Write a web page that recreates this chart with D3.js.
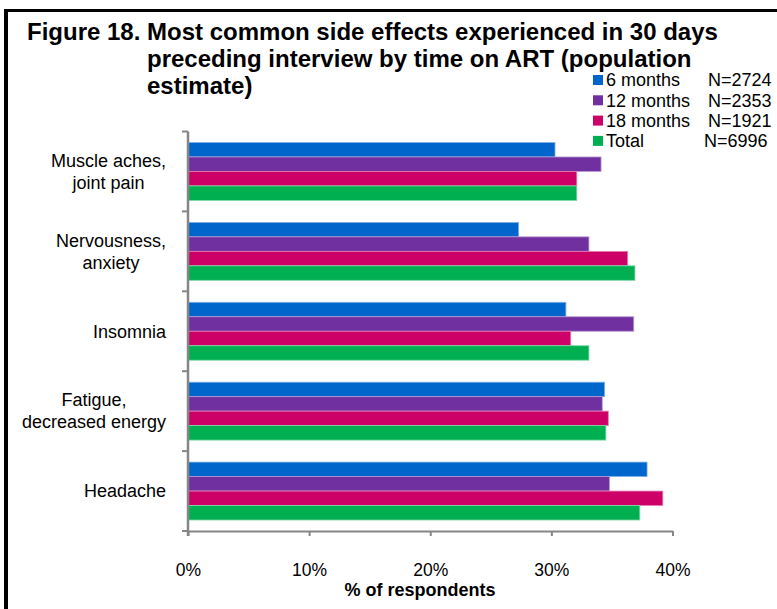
<!DOCTYPE html>
<html>
<head>
<meta charset="utf-8">
<script src="https://cdn.jsdelivr.net/npm/d3@7"></script>
<style>
  html, body { margin: 0; padding: 0; background: #fff; }
  svg { display: block; font-family: "Liberation Sans", Arial, sans-serif; }
</style>
</head>
<body>
<svg id="chart" width="777" height="609"></svg>
<script>
// Side effects reported in the 30 days before interview, by time on ART (% of respondents)
const categories = [
  ["Muscle aches,", "joint pain"],
  ["Nervousness,", "anxiety"],
  ["Insomnia"],
  ["Fatigue,", "decreased energy"],
  ["Headache"]
];
const seriesNames = ["6 months", "12 months", "18 months", "Total"];
const seriesN = ["N=2724", "N=2353", "N=1921", "N=6996"];
const seriesColors = ["#0066CC", "#7030A0", "#CC0066", "#00B050"];

// one array per series, in category order (top to bottom)
const months6  = [30.3, 27.3, 31.2, 34.4, 37.9];
const months12 = [34.1, 33.1, 36.8, 34.2, 34.8];
const months18 = [32.1, 36.3, 31.6, 34.7, 39.2];
const total    = [32.1, 36.9, 33.1, 34.5, 37.3];
const seriesValues = [months6, months12, months18, total];

const xTicks = [0, 10, 20, 30, 40];
const titleLines = [
  "Figure 18. Most common side effects experienced in 30 days",
  "preceding interview by time on ART (population",
  "estimate)"
];
const xAxisTitle = "% of respondents";

const svg = d3.select("#chart");
const axisGrey = "#868686";

// frame around the figure
svg.append("line").attr("x1", 6).attr("x2", 6).attr("y1", 9).attr("y2", 620)
  .attr("stroke", "#000").attr("stroke-width", 4);
svg.append("line").attr("x1", 4).attr("x2", 790).attr("y1", 10.5).attr("y2", 10.5)
  .attr("stroke", "#000").attr("stroke-width", 3);

// title
const title = svg.append("g").attr("font-weight", "bold").attr("font-size", 24).attr("fill", "#000");
title.append("text").attr("x", 27).attr("y", 39.5).text(titleLines[0]);
title.append("text").attr("x", 147).attr("y", 66.5).text(titleLines[1]);
title.append("text").attr("x", 147).attr("y", 93.5).text(titleLines[2]);

// scales
const plotLeft = 188, plotRight = 672.5, plotTop = 131.5, plotBottom = 531;
const x = d3.scaleLinear().domain([0, 40]).range([plotLeft, plotRight]);
const pad = 0.275;
const y = d3.scaleBand().domain(d3.range(categories.length))
  .range([plotTop, plotBottom]).paddingInner(pad).paddingOuter(pad / 2);
const ySeries = d3.scaleBand().domain(d3.range(seriesNames.length))
  .range([0, y.bandwidth()]).padding(0);

// bars
const groups = svg.append("g").selectAll("g")
  .data(categories.map((c, i) => i))
  .join("g")
  .attr("transform", i => `translate(0,${y(i)})`);

groups.selectAll("rect")
  .data(i => seriesValues.map((vals, s) => ({ s, v: vals[i] })))
  .join("rect")
  .attr("x", x(0))
  .attr("y", d => ySeries(d.s))
  .attr("width", d => x(d.v) - x(0))
  .attr("height", ySeries.bandwidth())
  .attr("fill", d => seriesColors[d.s])
  .attr("stroke", d => d3.interpolateRgb(seriesColors[d.s], "#ffffff")(0.5))
  .attr("stroke-width", 0.8);

// x axis
const xAxis = svg.append("g")
  .attr("transform", `translate(0,${plotBottom})`)
  .call(d3.axisBottom(x).tickValues(xTicks).tickFormat(d => d + "%")
    .tickSize(5).tickPadding(28).tickSizeOuter(0));
xAxis.select(".domain").attr("stroke", axisGrey).attr("stroke-width", 2);
xAxis.selectAll(".tick line").attr("stroke", axisGrey).attr("stroke-width", 2);
xAxis.selectAll(".tick text").attr("font-size", 17.5).attr("fill", "#000")
  .attr("font-family", "Liberation Sans, Arial, sans-serif");

svg.append("text")
  .attr("x", 420).attr("y", 596)
  .attr("text-anchor", "middle")
  .attr("font-weight", "bold").attr("font-size", 18)
  .text(xAxisTitle);

// y axis: line plus ticks at category boundaries
const half = y.step() * pad / 2;
const boundaries = categories.map((c, i) => y(i) - half).concat([y(categories.length - 1) + y.bandwidth() + half]);
svg.append("line").attr("x1", plotLeft).attr("x2", plotLeft)
  .attr("y1", plotTop).attr("y2", plotBottom + 5)
  .attr("stroke", axisGrey).attr("stroke-width", 2.5);
svg.append("g").selectAll("line").data(boundaries).join("line")
  .attr("x1", plotLeft - 6).attr("x2", plotLeft)
  .attr("y1", d => d).attr("y2", d => d)
  .attr("stroke", axisGrey).attr("stroke-width", 2);

// category labels: centred block, right edge near the axis
const labelRight = 166, lineH = 22;
const labels = svg.append("g").attr("font-size", 18).attr("fill", "#000");
categories.forEach((lines, i) => {
  const g = labels.append("g");
  const cy = y(i) + y.bandwidth() / 2;
  const texts = lines.map((ln, k) => g.append("text")
    .attr("y", cy + (k - (lines.length - 1) / 2) * lineH)
    .attr("dy", "0.35em")
    .attr("text-anchor", "middle")
    .text(ln));
  const maxW = d3.max(texts, t => t.node().getComputedTextLength());
  texts.forEach(t => t.attr("x", labelRight - maxW / 2));
});

// legend
const legend = svg.append("g").attr("font-size", 18).attr("fill", "#000");
const rowY = d3.scaleLinear().domain([0, 1]).range([80, 100.3]);
seriesNames.forEach((name, i) => {
  const cy = rowY(i);
  legend.append("rect").attr("x", 593).attr("y", cy - 5).attr("width", 10).attr("height", 10)
    .attr("fill", seriesColors[i]);
  legend.append("text").attr("x", 606).attr("y", cy).attr("dy", "0.36em").text(name);
  legend.append("text").attr("x", i === 3 ? 704 : 708).attr("y", cy).attr("dy", "0.36em").text(seriesN[i]);
});
</script>
</body>
</html>
